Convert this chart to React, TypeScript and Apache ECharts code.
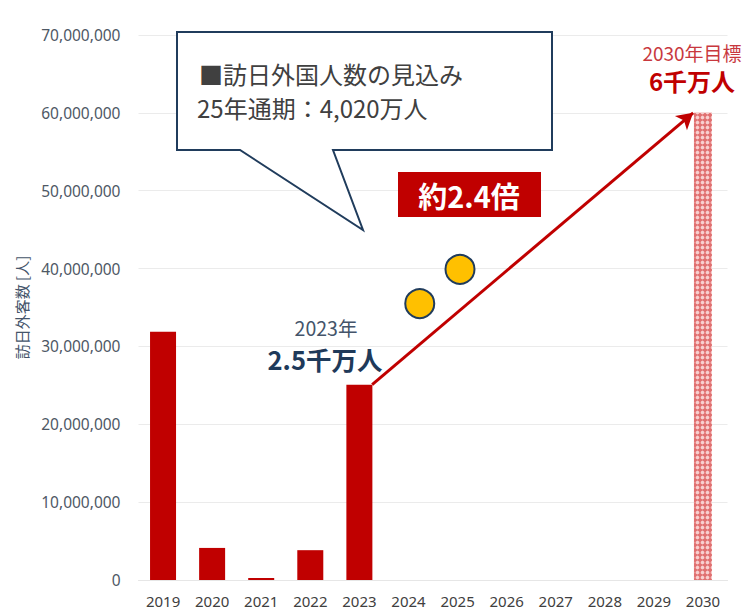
import React, { useEffect, useRef } from "react";
import * as echarts from "echarts";

const years = ["2019", "2020", "2021", "2022", "2023", "2024", "2025", "2026", "2027", "2028", "2029", "2030"];
const actualVisitors = [31880000, 4120000, 250000, 3830000, 25070000, null, null, null, null, null, null, null];
const targetVisitors = [null, null, null, null, null, null, null, null, null, null, null, 60000000];
// forecast markers: [category position, value]
const forecastPoints: [number, number][] = [
  [5.23, 35500000],
  [6.05, 39900000],
];
// growth arrow from 2023 to 2030 target
const arrowStart: [number, number] = [4.26, 25100000];
const arrowEnd: [number, number] = [10.8, 60000000];
const yTicks = { min: 0, max: 70000000, interval: 10000000 };

const FONT = '"Noto Sans", "Noto Sans CJK JP", sans-serif';
const JP = '"Noto Sans CJK JP", "Noto Sans", sans-serif';

export default function App() {
  const ref = useRef<HTMLDivElement>(null);
  useEffect(() => {
    if (!ref.current) return;
    const chart = echarts.init(ref.current, null, { renderer: "svg" });
    const grid = { left: 138.5, right: 23.5, top: 35, bottom: 33 };
    chart.setOption({
      animation: false,
      backgroundColor: "#fff",
      grid,
      xAxis: [
        {
          type: "category",
          data: years,
          axisLine: { lineStyle: { color: "#E6E6E6", width: 1 } },
          axisTick: { show: false },
          axisLabel: { color: "#404040", fontSize: 15, fontFamily: FONT, margin: 13 },
        },
        { type: "value", min: -0.5, max: 11.5, show: false },
        { type: "category", data: years, show: false },
      ],
      yAxis: {
        type: "value",
        min: yTicks.min,
        max: yTicks.max,
        interval: yTicks.interval,
        name: "訪日外客数 [人]",
        nameLocation: "middle",
        nameRotate: 90,
        nameGap: 110,
        nameTextStyle: { color: "#44546A", fontSize: 15, fontFamily: JP },
        axisLine: { show: false },
        axisTick: { show: false },
        splitLine: { lineStyle: { color: "#EBEBEB", width: 1 } },
        axisLabel: {
          color: "#4E5865",
          fontSize: 15.5,
          fontFamily: FONT,
          margin: 18,
          formatter: (v: number) => v.toLocaleString("en-US"),
        },
      },
      series: [
        {
          type: "bar",
          data: actualVisitors,
          barWidth: 26,
          itemStyle: { color: "#C00000" },
        },
        {
          type: "bar",
          xAxisIndex: 2,
          data: targetVisitors,
          barWidth: 18,
          itemStyle: {
            color: "#E07070",
            decal: {
              symbol: "circle",
              symbolSize: 0.75,
              color: "#F8D0D0",
              backgroundColor: "#CF3B3B",
              dashArrayX: [5, 0],
              dashArrayY: [5, 0],
            },
          },
        },
        {
          type: "scatter",
          xAxisIndex: 1,
          data: forecastPoints,
          symbolSize: 29,
          itemStyle: { color: "#FFC000", borderColor: "#203C5C", borderWidth: 2, opacity: 1 },
          z: 5,
          markLine: {
            silent: true,
            symbol: ["none", "arrow"],
            symbolSize: [14, 16],
            label: { show: false },
            lineStyle: { color: "#C00000", width: 3, type: "solid" },
            data: [[{ coord: arrowStart }, { coord: arrowEnd }]],
          },
        },
      ],
      graphic: [
        {
          type: "polygon",
          shape: {
            points: [
              [177, 32], [552, 32], [552, 150], [333, 150], [363, 230], [240, 150], [177, 150],
            ],
          },
          style: { fill: "#fff", stroke: "#203C5C", lineWidth: 2 },
          z: 10,
        },
        {
          type: "text",
          x: 199,
          y: 73,
          style: { text: "■訪日外国人数の見込み", fill: "#404040", fontSize: 24, fontFamily: JP, verticalAlign: "middle" },
          z: 11,
        },
        {
          type: "text",
          x: 197,
          y: 107,
          style: { text: "25年通期：4,020万人", fill: "#404040", fontSize: 24, fontFamily: JP, verticalAlign: "middle" },
          z: 11,
        },
        {
          type: "rect",
          shape: { x: 398, y: 172, width: 143, height: 45 },
          style: { fill: "#C00000" },
          z: 10,
        },
        {
          type: "text",
          x: 469,
          y: 195,
          style: { text: "約2.4倍", fill: "#fff", fontSize: 29, fontWeight: "bold", fontFamily: JP, align: "center", verticalAlign: "middle" },
          z: 11,
        },
        {
          type: "text",
          x: 692,
          y: 52,
          style: { text: "2030年目標", fill: "#C8383E", fontSize: 19, fontFamily: JP, align: "center", verticalAlign: "middle" },
          z: 11,
        },
        {
          type: "text",
          x: 692,
          y: 80,
          style: { text: "6千万人", fill: "#C00000", fontSize: 24, fontWeight: "bold", fontFamily: JP, align: "center", verticalAlign: "middle" },
          z: 11,
        },
        {
          type: "text",
          x: 326,
          y: 327,
          style: { text: "2023年", fill: "#44546A", fontSize: 19.5, fontFamily: JP, align: "center", verticalAlign: "middle" },
          z: 11,
        },
        {
          type: "text",
          x: 325,
          y: 358,
          style: { text: "2.5千万人", fill: "#1F3A5A", fontSize: 25.5, fontWeight: "bold", fontFamily: JP, align: "center", verticalAlign: "middle" },
          z: 11,
        },
      ],
    });
    return () => chart.dispose();
  }, []);
  return <div ref={ref} style={{ width: 751, height: 613, position: "absolute", left: 0, top: 0 }} />;
}
